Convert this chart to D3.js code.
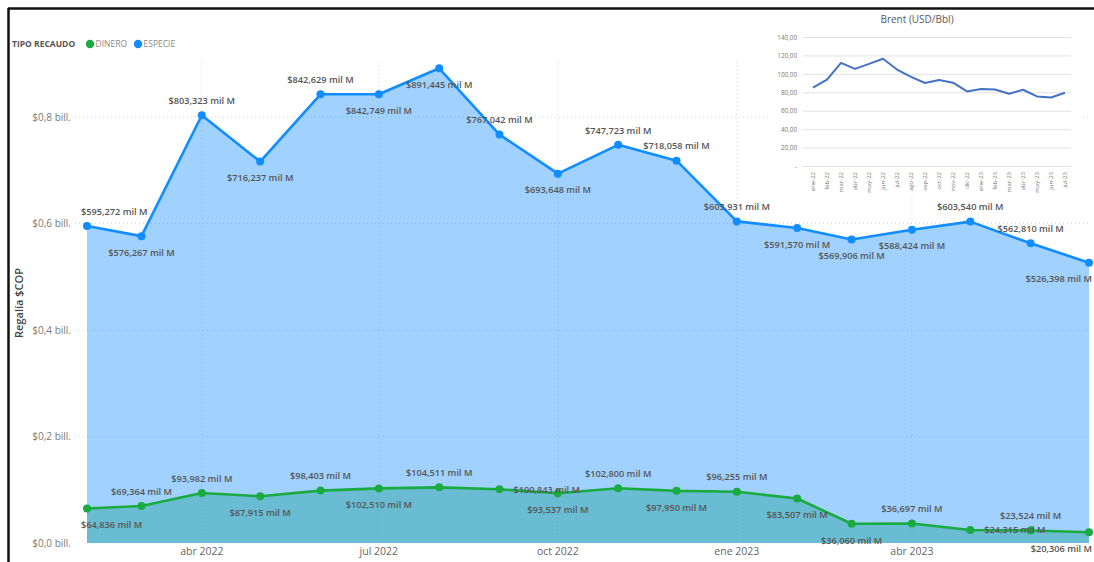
<!DOCTYPE html>
<html>
<head>
<meta charset="utf-8">
<script src="https://cdn.jsdelivr.net/npm/d3@7"></script>
<style>
  html, body { margin: 0; padding: 0; background: #ffffff; }
  svg { display: block; }
  text { font-family: "Open Sans", "DejaVu Sans", sans-serif; }
</style>
</head>
<body>
<svg id="chart" width="1094" height="562"></svg>
<script>
// ---------------- DATA ----------------
const months = ["2022-02","2022-03","2022-04","2022-05","2022-06","2022-07","2022-08","2022-09","2022-10",
                "2022-11","2022-12","2023-01","2023-02","2023-03","2023-04","2023-05","2023-06","2023-07"];
// values in "mil M" (thousands of millions COP)
const especie = [595272, 576267, 803323, 716237, 842629, 842749, 891445, 767042, 693648,
                 747723, 718058, 603931, 591570, 569906, 588424, 603540, 562810, 526398];
const dinero  = [64836, 69364, 93982, 87915, 98403, 102510, 104511, 100843, 93537,
                 102800, 97950, 96255, 83507, 36060, 36697, 24315, 23524, 20306];
const especieLabelPos = ["above","below","above","below","above","below","below","above","below",
                         "above","above","above","below","below","below","above","above","below"];
const dineroLabelPos  = ["below","above","above","below","above","below","above","right","below",
                         "above","below","above","below","below","above","right","above","below"];
const yTicks = [0, 200000, 400000, 600000, 800000];
const yTickLabels = ["$0,0 bill.", "$0,2 bill.", "$0,4 bill.", "$0,6 bill.", "$0,8 bill."];
const xTickMonths = ["2022-04","2022-07","2022-10","2023-01","2023-04"];
const xTickLabels = ["abr 2022","jul 2022","oct 2022","ene 2023","abr 2023"];
const seriesNames = ["DINERO", "ESPECIE"];

const brentMonths = ["ene-22","feb-22","mar-22","abr-22","may-22","jun-22","jul-22","ago-22","sep-22","oct-22",
                     "nov-22","dic-22","ene-23","feb-23","mar-23","abr-23","may-23","jun-23","jul-23"];
const brentValues = [85.5, 94.2, 112.5, 105.9, 111.4, 116.9, 105.2, 97.2, 90.6, 93.9,
                     91.0, 81.5, 84.0, 83.6, 78.9, 83.3, 76.0, 74.9, 80.0];
const brentTicks = [0, 20, 40, 60, 80, 100, 120, 140];
const brentTickLabels = ["-", "20,00", "40,00", "60,00", "80,00", "100,00", "120,00", "140,00"];

// ---------------- STYLE ----------------
const blue = "#118DFF", green = "#1AAB40";
const svg = d3.select("#chart");
const parse = d3.timeParse("%Y-%m");
const dates = months.map(parse);

const x = d3.scaleTime().domain(d3.extent(dates)).range([87, 1089]);
const y = d3.scaleLinear().domain([0, 900000]).range([543, 63.75]);

// frame
svg.append("line").attr("x1", 8).attr("x2", 1094).attr("y1", 8.5).attr("y2", 8.5)
  .attr("stroke", "#111").attr("stroke-width", 2.5);
svg.append("line").attr("x1", 8.5).attr("x2", 8.5).attr("y1", 8).attr("y2", 562)
  .attr("stroke", "#111").attr("stroke-width", 2.5);

// gridlines
const grid = svg.append("g");
grid.selectAll("line.h").data(yTicks.slice(1)).join("line")
  .attr("x1", 75).attr("x2", 1090)
  .attr("y1", d => y(d)).attr("y2", d => y(d))
  .attr("stroke", "#d6d6d6").attr("stroke-width", 1).attr("stroke-dasharray", "1,3");
grid.selectAll("line.v").data(xTickMonths.map(parse)).join("line")
  .attr("x1", d => x(d)).attr("x2", d => x(d))
  .attr("y1", 62).attr("y2", 543)
  .attr("stroke", "#d6d6d6").attr("stroke-width", 1).attr("stroke-dasharray", "1,3");

// y axis labels
svg.append("g").selectAll("text").data(yTicks).join("text")
  .attr("x", 71).attr("y", d => y(d)).attr("dy", "0.35em")
  .attr("text-anchor", "end").attr("font-size", 10).attr("fill", "#7a7a7a")
  .text((d, i) => yTickLabels[i]);

// x axis labels
svg.append("g").selectAll("text").data(xTickMonths).join("text")
  .attr("x", d => x(parse(d))).attr("y", 555)
  .attr("text-anchor", "middle").attr("font-size", 10.5).attr("fill", "#666")
  .text((d, i) => xTickLabels[i]);

// y axis title
svg.append("text").attr("transform", "translate(23,303) rotate(-90)")
  .attr("text-anchor", "middle").attr("font-size", 11).attr("font-weight", 600).attr("fill", "#444")
  .text("Regalía $COP");

// areas
const area = vals => d3.area().x((d, i) => x(dates[i])).y0(y(0)).y1(d => y(d))(vals);
const line = vals => d3.line().x((d, i) => x(dates[i])).y(d => y(d))(vals);
svg.append("path").attr("d", area(dinero)).attr("fill", green).attr("fill-opacity", 0.4);
svg.append("path").attr("d", area(especie)).attr("fill", blue).attr("fill-opacity", 0.4);

// lines & points
[[especie, blue], [dinero, green]].forEach(([vals, col]) => {
  svg.append("path").attr("d", line(vals)).attr("fill", "none").attr("stroke", col)
    .attr("stroke-width", 2.6).attr("stroke-linejoin", "round");
  svg.append("g").selectAll("circle").data(vals).join("circle")
    .attr("cx", (d, i) => x(dates[i])).attr("cy", d => y(d)).attr("r", 4).attr("fill", col);
});

// data labels
const fmt = v => "$" + d3.format(",")(v) + " mil M";
function drawLabels(vals, pos) {
  const g = svg.append("g");
  vals.forEach((v, i) => {
    const px = x(dates[i]), py = y(v);
    const t = g.append("text").attr("font-size", 9.2).attr("font-weight", 600)
      .attr("fill", "#555").attr("dy", "0.35em").text(fmt(v));
    const w = t.node().getComputedTextLength();
    let lx, ly = py;
    if (pos[i] === "right") { lx = px + 14; }
    else {
      lx = px - w / 2;
      ly = pos[i] === "above" ? py - 14.5 : py + 16.5;
    }
    lx = Math.max(81, Math.min(lx, 1092 - w));
    t.attr("x", lx).attr("y", ly);
  });
}
drawLabels(especie, especieLabelPos);
drawLabels(dinero, dineroLabelPos);

// legend
const lg = svg.append("g").attr("font-size", 8.5);
lg.append("text").attr("x", 12).attr("y", 44).attr("dy", "0.35em").attr("font-weight", 700)
  .attr("fill", "#555").text("TIPO RECAUDO");
[[seriesNames[0], green, 90], [seriesNames[1], blue, 138]].forEach(([name, col, cx]) => {
  lg.append("circle").attr("cx", cx).attr("cy", 44).attr("r", 4.2).attr("fill", col);
  lg.append("text").attr("x", cx + 5.5).attr("y", 44).attr("dy", "0.35em").attr("fill", "#888").text(name);
});

// ---------------- BRENT INSET ----------------
const inset = svg.append("g");
inset.append("rect").attr("x", 768).attr("y", 11).attr("width", 314).attr("height", 186).attr("fill", "#fff");
inset.append("text").attr("x", 917).attr("y", 19).attr("dy", "0.35em").attr("text-anchor", "middle")
  .attr("font-size", 10).attr("fill", "#595959").text("Brent (USD/Bbl)");
const bx = d3.scalePoint().domain(brentMonths).range([813, 1065]);
const by = d3.scaleLinear().domain([0, 140]).range([166.5, 37.5]);
inset.selectAll("line.g").data(brentTicks).join("line")
  .attr("x1", 803).attr("x2", 1071).attr("y1", d => by(d)).attr("y2", d => by(d))
  .attr("stroke", "#e2e2e2").attr("stroke-width", 1);
inset.selectAll("text.yt").data(brentTicks).join("text")
  .attr("x", 797).attr("y", d => by(d)).attr("dy", "0.35em").attr("text-anchor", "end")
  .attr("font-size", 6.3).attr("fill", "#777").text((d, i) => brentTickLabels[i]);
inset.selectAll("text.xt").data(brentMonths).join("text")
  .attr("transform", d => `translate(${bx(d)},172) rotate(-90)`)
  .attr("dy", "0.35em").attr("text-anchor", "end")
  .attr("font-size", 6).attr("fill", "#777").text(d => d);
inset.append("path")
  .attr("d", d3.line().x((d, i) => bx(brentMonths[i])).y(d => by(d))(brentValues))
  .attr("fill", "none").attr("stroke", "#4472C4").attr("stroke-width", 2).attr("stroke-linejoin", "round");
</script>
</body>
</html>
